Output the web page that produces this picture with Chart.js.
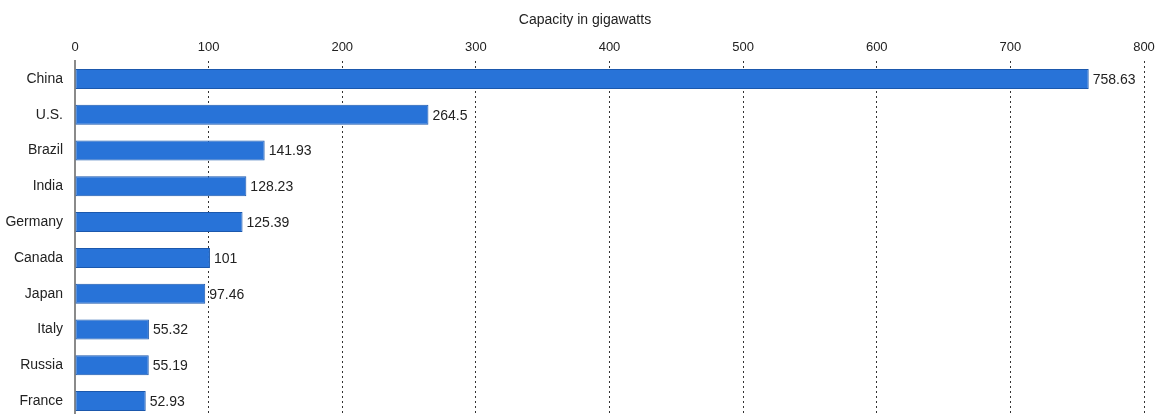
<!DOCTYPE html>
<html>
<head>
<meta charset="utf-8">
<script src="https://cdn.jsdelivr.net/npm/chart.js@4.4.1/dist/chart.umd.min.js"></script>
<style>
  html, body { margin: 0; padding: 0; background: #fff; overflow: hidden; }
  canvas { display: block; }
</style>
</head>
<body>
<canvas id="chart" width="1156" height="422"></canvas>
<script>
// Installed hydropower capacity by country
const countries = ["China", "U.S.", "Brazil", "India", "Germany", "Canada", "Japan", "Italy", "Russia", "France"];
const capacityGW = [758.63, 264.5, 141.93, 128.23, 125.39, 101, 97.46, 55.32, 55.19, 52.93];
const capacityLabels = ["758.63", "264.5", "141.93", "128.23", "125.39", "101", "97.46", "55.32", "55.19", "52.93"];
const axisTicks = [0, 100, 200, 300, 400, 500, 600, 700, 800];
const axisTitle = "Capacity in gigawatts";

const FONT = "'Liberation Sans', Arial, sans-serif";

// Writes each bar's value just past its end, and the axis title above the ticks
const annotations = {
  id: 'annotations',
  afterDatasetsDraw(chart) {
    const { ctx } = chart;
    const meta = chart.getDatasetMeta(0);
    ctx.save();
    ctx.font = "14px " + FONT;
    ctx.fillStyle = "#222";
    ctx.textAlign = "left";
    ctx.textBaseline = "middle";
    meta.data.forEach((bar, i) => {
      ctx.fillText(capacityLabels[i], bar.x + 4, bar.y + 1);
    });
    ctx.textAlign = "center";
    ctx.fillText(axisTitle, 585, 20);
    ctx.restore();
  }
};

new Chart(document.getElementById('chart'), {
  type: 'bar',
  data: {
    labels: countries,
    datasets: [{
      data: capacityGW,
      backgroundColor: '#2873d8',
      borderColor: '#1b58ad',
      borderWidth: 1,
      borderSkipped: false,
      categoryPercentage: 1,
      barPercentage: 0.56
    }]
  },
  options: {
    indexAxis: 'y',
    responsive: false,
    animation: false,
    layout: { padding: { left: 0, right: 12, top: 0, bottom: 3 } },
    plugins: {
      legend: { display: false },
      tooltip: { enabled: false }
    },
    scales: {
      x: {
        position: 'top',
        min: 0,
        max: 800,
        afterBuildTicks(scale) {
          scale.ticks = axisTicks.map(v => ({ value: v }));
        },
        afterFit(scale) {
          scale.height = 61;
          scale.paddingLeft = 0;
          scale.paddingRight = 0;
        },
        ticks: {
          color: '#222',
          font: { family: FONT, size: 13 },
          padding: 6,
          maxRotation: 0
        },
        border: { display: false, dash: [2, 3] },
        grid: {
          drawTicks: false,
          color: ctx => (ctx.tick && ctx.tick.value === 0) ? 'rgba(0,0,0,0)' : '#333',
          lineWidth: 1
        }
      },
      y: {
        afterFit(scale) {
          scale.width = 75;
          scale.paddingTop = 0;
          scale.paddingBottom = 0;
        },
        ticks: {
          color: '#222',
          font: { family: FONT, size: 14 },
          padding: 12
        },
        border: { display: true, color: '#8a8a8a', width: 2 },
        grid: { display: false, drawTicks: false }
      }
    }
  },
  plugins: [annotations]
});
</script>
</body>
</html>
